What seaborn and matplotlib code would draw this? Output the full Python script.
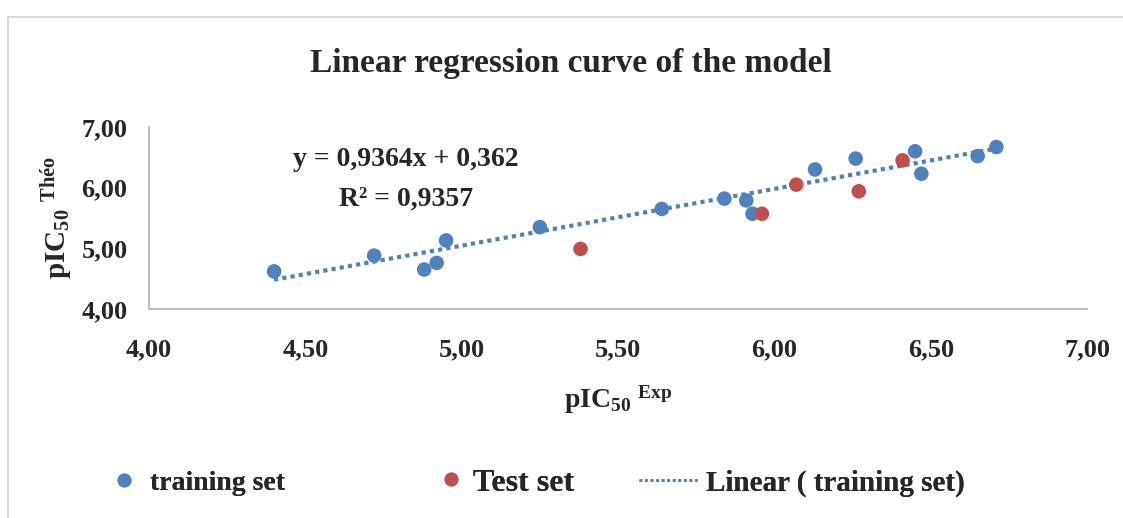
import numpy as np
import pandas as pd
import matplotlib
matplotlib.use("Agg")
import matplotlib.pyplot as plt
import seaborn as sns
from matplotlib.lines import Line2D
from matplotlib.patches import Rectangle

# ---- data ----
train_exp = [4.40, 4.72, 4.88, 4.92, 4.95, 5.25, 5.64, 5.84, 5.91, 5.93,
             6.13, 6.26, 6.45, 6.47, 6.65, 6.71]
train_theo = [4.62, 4.88, 4.65, 4.76, 5.13, 5.35, 5.65, 5.82, 5.79, 5.57,
              6.30, 6.48, 6.60, 6.23, 6.52, 6.67]
test_exp = [5.38, 5.96, 6.07, 6.27, 6.41]
test_theo = [4.99, 5.57, 6.05, 5.94, 6.45]
slope = 0.9364
intercept = 0.362
r2 = 0.9357
x_ticks = [4.0, 4.5, 5.0, 5.5, 6.0, 6.5, 7.0]
y_ticks = [4.0, 5.0, 6.0, 7.0]

BLUE = "#4F81BD"
RED = "#C0504D"

sns.set_theme(style="white")
plt.rcParams['font.family'] = ['Liberation Serif', 'DejaVu Serif']
plt.rcParams['font.weight'] = 'bold'
plt.rcParams['mathtext.fontset'] = 'custom'
plt.rcParams['mathtext.rm'] = 'Liberation Serif:bold'
plt.rcParams['mathtext.it'] = 'Liberation Serif:bold'
plt.rcParams['mathtext.bf'] = 'Liberation Serif:bold'
plt.rcParams['mathtext.default'] = 'rm'

fig = plt.figure(figsize=(11.23, 5.18), dpi=100)
ax = fig.add_axes([0.1327, 0.4035, 0.968 - 0.1327, 0.7548 - 0.4035])

train_df = pd.DataFrame({"exp": train_exp, "theo": train_theo})
test_df = pd.DataFrame({"exp": test_exp, "theo": test_theo})
fit_x = np.array([min(train_exp), max(train_exp)])
fit_df = pd.DataFrame({"x": fit_x, "y": slope * fit_x + intercept})

sns.lineplot(data=fit_df, x="x", y="y", ax=ax, color=BLUE, lw=3,
             linestyle=(0, (1, 1)), zorder=2)
sns.scatterplot(data=train_df, x="exp", y="theo", ax=ax, color=BLUE,
                s=110, edgecolor="none", zorder=3)
sns.scatterplot(data=test_df, x="exp", y="theo", ax=ax, color=RED,
                s=110, edgecolor="none", zorder=3)

ax.set_xlim(4, 7)
ax.set_ylim(4, 7)
ax.set_xticks(x_ticks)
ax.set_yticks(y_ticks)
ax.set_xticklabels([f"{v:.2f}".replace(".", ",") for v in x_ticks], fontsize=19, fontweight='bold')
ax.set_yticklabels([f"{v:.2f}".replace(".", ",") for v in y_ticks], fontsize=19, fontweight='bold')
ax.tick_params(axis='x', length=0, pad=21)
ax.tick_params(axis='y', length=0, pad=15.5)
for s in ['top', 'right']:
    ax.spines[s].set_visible(False)
for s in ['left', 'bottom']:
    ax.spines[s].set_color('#BFBFBF')
    ax.spines[s].set_linewidth(1.5)

ax.set_xlabel(r"pIC$_{50}$ $^{\mathrm{Exp}}$", fontsize=20, fontweight='bold')
ax.set_ylabel(r"pIC$_{50}$ $^{\mathrm{Théo}}$", fontsize=21, fontweight='bold')
ax.xaxis.set_label_coords(0.5, -0.41)
ax.yaxis.set_label_coords(-0.079, 0.5)

ax.text(0.274, 0.713, f"y = {slope:.4f}x + {intercept:.3f}".replace(".", ",") + "\n" +
        f"R² = {r2:.4f}".replace(".", ","),
        transform=ax.transAxes, ha='center', va='center', fontsize=20,
        fontweight='bold', linespacing=1.75)

fig.text(0.508, 0.878, "Linear regression curve of the model", ha='center', va='center',
         fontsize=24, fontweight='bold')

# legend entries, placed individually
W = 1123.0
leg_y = 0.0676
legend_items = [
    (Line2D([], [], marker='o', color=BLUE, ls='none', markersize=9), "training set",
     113 / W, 20, 0.8, 0.55),
    (Line2D([], [], marker='o', color=RED, ls='none', markersize=9), "Test set",
     438 / W, 23, 0.8, 0.29),
    (Line2D([], [], color=BLUE, lw=2, ls=(0, (1, 1))), "Linear ( training set)",
     639 / W, 21, 1.99, 0.3),
]
for h, lab, x0, fs, hl, hp in legend_items:
    lg = fig.legend([h], [lab], loc='center left', bbox_to_anchor=(x0, leg_y),
                    frameon=False, borderpad=0, borderaxespad=0,
                    prop={'family': 'Liberation Serif', 'weight': 'bold', 'size': fs},
                    handlelength=hl, handletextpad=hp)
    fig.add_artist(lg)

fig.patches.append(Rectangle((0.007, -0.01), 1.0, 0.978, transform=fig.transFigure,
                             fill=False, edgecolor='#D9D9D9', lw=1.5))

fig.savefig("out.png", dpi=100, facecolor='white')
